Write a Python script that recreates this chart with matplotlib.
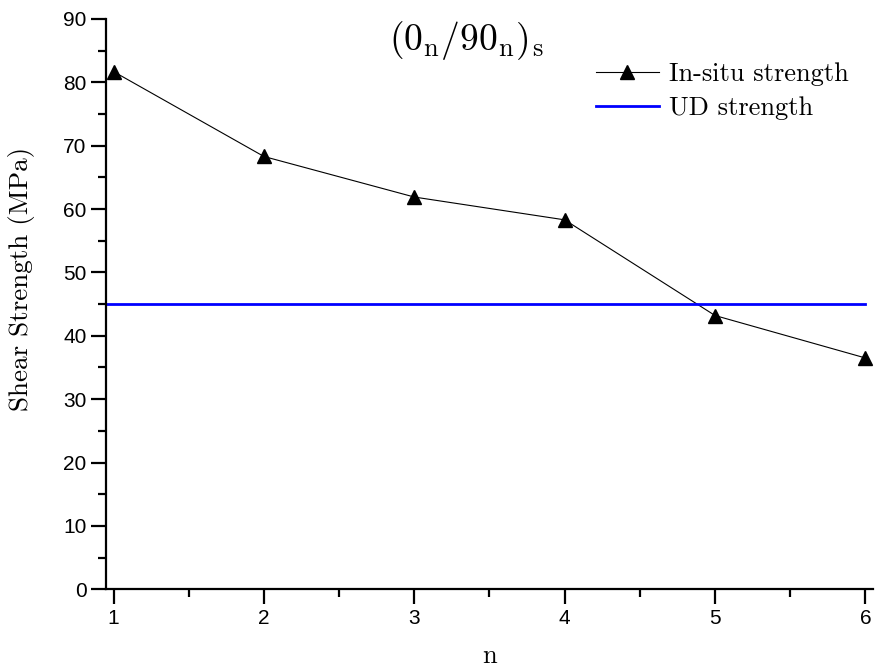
import matplotlib
matplotlib.use('Agg')
import matplotlib.pyplot as plt
from matplotlib.ticker import MultipleLocator

plt.rcParams['mathtext.fontset'] = 'cm'

# data
n_plies = [1, 2, 3, 4, 5, 6]
insitu_strength = [81.7, 68.3, 61.9, 58.3, 43.2, 36.5]
ud_strength = 45.0

fig = plt.figure(figsize=(8.77, 6.71), dpi=100)
ax = fig.add_axes([0.1209, 0.1218, 0.8745, 0.8499])

ax.plot(n_plies, insitu_strength, color='black', linewidth=0.8, marker='^',
        markersize=10, label='In-situ strength')
ax.plot([0.95, 6.0], [ud_strength, ud_strength], color='blue', linewidth=2,
        label='UD strength')

ax.set_xlim(0.95, 6.05)
ax.set_ylim(0, 90)
ax.xaxis.set_major_locator(MultipleLocator(1))
ax.xaxis.set_minor_locator(MultipleLocator(0.5))
ax.yaxis.set_major_locator(MultipleLocator(10))
ax.yaxis.set_minor_locator(MultipleLocator(5))

for side in ['top', 'right']:
    ax.spines[side].set_visible(False)
for side in ['left', 'bottom']:
    ax.spines[side].set_linewidth(1.6)

ax.tick_params(which='major', direction='out', length=11, width=1.6,
               labelsize=15, pad=3)
ax.tick_params(which='minor', direction='out', length=6, width=1.6)
for lbl in ax.get_xticklabels() + ax.get_yticklabels():
    lbl.set_fontfamily('Liberation Sans')

ax.set_xlabel('n', fontfamily='cmr10', fontsize=19, labelpad=12)
ax.set_ylabel('Shear Strength (MPa)', fontfamily='cmr10', fontsize=19.5)
ax.yaxis.set_label_coords(-0.093, 0.544)

ax.text(0.47, 0.963, r'$(0_\mathrm{n}/90_\mathrm{n})_\mathrm{s}$', transform=ax.transAxes,
        ha='center', va='center', fontsize=27)

leg = ax.legend(loc='upper right', bbox_to_anchor=(1.0, 0.966), frameon=False,
                prop={'family': 'cmr10', 'size': 19}, handlelength=2.4,
                handletextpad=0.4, labelspacing=0.4)

fig.savefig('out.png', dpi=100)
